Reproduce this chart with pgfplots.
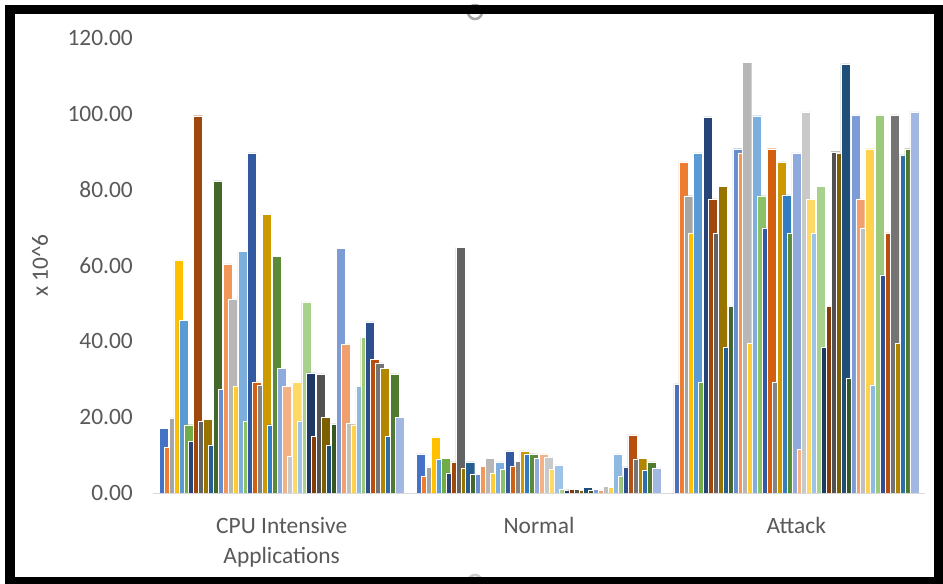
\documentclass[border=0pt]{standalone}
\usepackage{pgfplots}
\pgfplotsset{compat=1.18}
\usepackage{fontspec}
\setmainfont{Carlito}
\definecolor{tc}{HTML}{595959}
\definecolor{c1}{HTML}{4472C4}\definecolor{c2}{HTML}{ED7D31}\definecolor{c3}{HTML}{A5A5A5}
\definecolor{c4}{HTML}{FFC000}\definecolor{c5}{HTML}{5B9BD5}\definecolor{c6}{HTML}{70AD47}
\definecolor{c7}{HTML}{264478}\definecolor{c8}{HTML}{9E480E}\definecolor{c9}{HTML}{636363}
\definecolor{c10}{HTML}{997300}\definecolor{c11}{HTML}{255E91}\definecolor{c12}{HTML}{43682B}
\definecolor{c13}{HTML}{698ED0}\definecolor{c14}{HTML}{F1975A}\definecolor{c15}{HTML}{B7B7B7}
\definecolor{c16}{HTML}{FFCD33}\definecolor{c17}{HTML}{7CAFDD}\definecolor{c18}{HTML}{8CC168}
\definecolor{c19}{HTML}{335AA1}\definecolor{c20}{HTML}{D2600F}\definecolor{c21}{HTML}{848484}
\definecolor{c22}{HTML}{CC9900}\definecolor{c23}{HTML}{327DC2}\definecolor{c24}{HTML}{5B8B38}
\definecolor{c25}{HTML}{8FAADC}\definecolor{c26}{HTML}{F4B183}\definecolor{c27}{HTML}{C9C9C9}
\definecolor{c28}{HTML}{FFD966}\definecolor{c29}{HTML}{9DC3E6}\definecolor{c30}{HTML}{A9D18E}
\definecolor{c31}{HTML}{203864}\definecolor{c32}{HTML}{843C0B}\definecolor{c33}{HTML}{525252}
\definecolor{c34}{HTML}{7F6000}\definecolor{c35}{HTML}{1F4E79}\definecolor{c36}{HTML}{385723}
\definecolor{c37}{HTML}{7D9CD6}\definecolor{c38}{HTML}{F29F6E}\definecolor{c39}{HTML}{C0C0C0}
\definecolor{c40}{HTML}{FFD24D}\definecolor{c41}{HTML}{8EB9E2}\definecolor{c42}{HTML}{9CC97B}
\definecolor{c43}{HTML}{2D4F8D}\definecolor{c44}{HTML}{B84E10}\definecolor{c45}{HTML}{747474}
\definecolor{c46}{HTML}{B38600}\definecolor{c47}{HTML}{2C6DAA}\definecolor{c48}{HTML}{507A32}
\definecolor{c49}{HTML}{A2B8E2}
\pgfplotsset{bs/.style={ybar, bar width=0.035, draw=white, line width=0.4bp}}
\begin{document}
\begin{tikzpicture}[x=1bp,y=1bp]
\useasboundingbox (0,0) rectangle (943,584);
\fill[white] (0,0) rectangle (943,584);
\begin{axis}[
  at={(153bp,91bp)}, anchor=south west,
  scale only axis, width=772bp, height=455bp,
  xmin=-0.5, xmax=2.5, ymin=0, ymax=120,
  xtick={0,1,2},
  xticklabels={{\strut CPU Intensive\\Applications},{\strut Normal},{\strut Attack}},
  ytick={0,20,40,60,80,100,120},
  major tick length=0pt,
  axis x line*=bottom, axis y line*=left,
  x axis line style={draw=black!15, line width=0.75bp},
  y axis line style={draw=none},
  /pgf/number format/assume math mode=true,
  yticklabel style={/pgf/number format/.cd, fixed, fixed zerofill, precision=2, /tikz/.cd,
    font=\fontsize{23.5}{28}\selectfont, text=tc, anchor=east, inner sep=0pt, xshift=-20bp},
  xticklabel style={font=\fontsize{23.5}{30}\selectfont, text=tc, align=center, anchor=north, inner sep=0pt, yshift=-19bp},
  every axis y label/.style={at={(axis description cs:-0.1464,0.5)}, rotate=90, anchor=center,
    font=\fontsize{23.5}{28}\selectfont, text=tc},
  ylabel={x 10\textasciicircum 6},
]
\addplot[bs, bar shift=-0.4584, fill=c1] coordinates {(0,17.1) (1,10.3) (2,28.8)};
\addplot[bs, bar shift=-0.4393, fill=c2] coordinates {(0,12.1) (1,4.5) (2,87.3)};
\addplot[bs, bar shift=-0.4202, fill=c3] coordinates {(0,19.8) (1,6.9) (2,78.4)};
\addplot[bs, bar shift=-0.4011, fill=c4] coordinates {(0,61.5) (1,14.8) (2,68.6)};
\addplot[bs, bar shift=-0.3820, fill=c5] coordinates {(0,45.6) (1,9.0) (2,89.7)};
\addplot[bs, bar shift=-0.3629, fill=c6] coordinates {(0,18.0) (1,9.2) (2,29.3)};
\addplot[bs, bar shift=-0.3438, fill=c7] coordinates {(0,13.7) (1,5.3) (2,99.2)};
\addplot[bs, bar shift=-0.3247, fill=c8] coordinates {(0,99.5) (1,8.2) (2,77.6)};
\addplot[bs, bar shift=-0.3056, fill=c9] coordinates {(0,19.0) (1,64.8) (2,68.6)};
\addplot[bs, bar shift=-0.2865, fill=c10] coordinates {(0,19.5) (1,6.6) (2,80.8)};
\addplot[bs, bar shift=-0.2674, fill=c11] coordinates {(0,12.7) (1,8.2) (2,38.5)};
\addplot[bs, bar shift=-0.2483, fill=c12] coordinates {(0,82.3) (1,5.0) (2,49.3)};
\addplot[bs, bar shift=-0.2292, fill=c13] coordinates {(0,27.4) (1,5.0) (2,90.8)};
\addplot[bs, bar shift=-0.2101, fill=c14] coordinates {(0,60.4) (1,7.1) (2,89.7)};
\addplot[bs, bar shift=-0.1910, fill=c15] coordinates {(0,51.2) (1,9.2) (2,113.5)};
\addplot[bs, bar shift=-0.1719, fill=c16] coordinates {(0,28.2) (1,5.3) (2,39.6)};
\addplot[bs, bar shift=-0.1528, fill=c17] coordinates {(0,63.8) (1,8.2) (2,99.5)};
\addplot[bs, bar shift=-0.1337, fill=c18] coordinates {(0,19.0) (1,6.3) (2,78.4)};
\addplot[bs, bar shift=-0.1146, fill=c19] coordinates {(0,89.7) (1,11.1) (2,69.9)};
\addplot[bs, bar shift=-0.0955, fill=c20] coordinates {(0,29.3) (1,7.1) (2,90.8)};
\addplot[bs, bar shift=-0.0764, fill=c21] coordinates {(0,28.5) (1,8.4) (2,29.3)};
\addplot[bs, bar shift=-0.0573, fill=c22] coordinates {(0,73.4) (1,11.1) (2,87.3)};
\addplot[bs, bar shift=-0.0382, fill=c23] coordinates {(0,18.0) (1,10.3) (2,78.6)};
\addplot[bs, bar shift=-0.0191, fill=c24] coordinates {(0,62.5) (1,10.3) (2,68.6)};
\addplot[bs, bar shift=0, fill=c25] coordinates {(0,32.8) (1,9.2) (2,89.7)};
\addplot[bs, bar shift=0.0191, fill=c26] coordinates {(0,28.2) (1,10.3) (2,11.6)};
\addplot[bs, bar shift=0.0382, fill=c27] coordinates {(0,9.8) (1,9.5) (2,100.5)};
\addplot[bs, bar shift=0.0573, fill=c28] coordinates {(0,29.3) (1,6.3) (2,77.6)};
\addplot[bs, bar shift=0.0764, fill=c29] coordinates {(0,19.0) (1,7.4) (2,68.6)};
\addplot[bs, bar shift=0.0955, fill=c30] coordinates {(0,50.4) (1,1.0) (2,80.8)};
\addplot[bs, bar shift=0.1146, fill=c31] coordinates {(0,31.7) (1,0.8) (2,38.5)};
\addplot[bs, bar shift=0.1337, fill=c32] coordinates {(0,15.0) (1,1.0) (2,49.3)};
\addplot[bs, bar shift=0.1528, fill=c33] coordinates {(0,31.4) (1,1.0) (2,90.0)};
\addplot[bs, bar shift=0.1719, fill=c34] coordinates {(0,20.0) (1,0.7) (2,89.7)};
\addplot[bs, bar shift=0.1910, fill=c35] coordinates {(0,12.7) (1,1.5) (2,113.2)};
\addplot[bs, bar shift=0.2101, fill=c36] coordinates {(0,18.2) (1,0.8) (2,30.3)};
\addplot[bs, bar shift=0.2292, fill=c37] coordinates {(0,64.6) (1,1.0) (2,99.7)};
\addplot[bs, bar shift=0.2483, fill=c38] coordinates {(0,39.3) (1,0.8) (2,77.6)};
\addplot[bs, bar shift=0.2674, fill=c39] coordinates {(0,18.5) (1,1.8) (2,69.9)};
\addplot[bs, bar shift=0.2865, fill=c40] coordinates {(0,18.0) (1,1.4) (2,90.8)};
\addplot[bs, bar shift=0.3056, fill=c41] coordinates {(0,28.2) (1,10.3) (2,28.5)};
\addplot[bs, bar shift=0.3247, fill=c42] coordinates {(0,41.0) (1,4.5) (2,99.7)};
\addplot[bs, bar shift=0.3438, fill=c43] coordinates {(0,45.1) (1,6.9) (2,57.5)};
\addplot[bs, bar shift=0.3629, fill=c44] coordinates {(0,35.3) (1,15.3) (2,68.6)};
\addplot[bs, bar shift=0.3820, fill=c45] coordinates {(0,34.3) (1,9.0) (2,99.7)};
\addplot[bs, bar shift=0.4011, fill=c46] coordinates {(0,32.8) (1,9.2) (2,39.6)};
\addplot[bs, bar shift=0.4202, fill=c47] coordinates {(0,15.0) (1,6.1) (2,89.2)};
\addplot[bs, bar shift=0.4393, fill=c48] coordinates {(0,31.4) (1,8.2) (2,90.8)};
\addplot[bs, bar shift=0.4584, fill=c49] coordinates {(0,20.0) (1,6.6) (2,100.5)};
\end{axis}
\draw[gray!70, line width=2.5bp] (475,572) circle (7);
\draw[gray!40, line width=2.5bp] (475,2) circle (7);
\draw[black, line width=9.5bp] (10,2) rectangle (939,574.5);
\end{tikzpicture}
\end{document}
